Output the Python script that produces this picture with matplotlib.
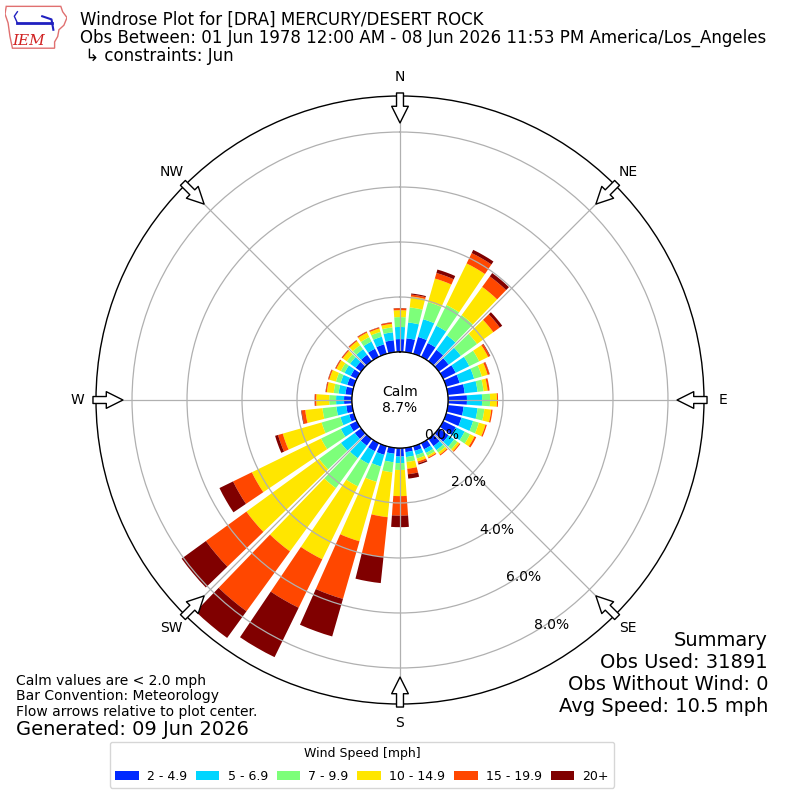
import numpy as np
from matplotlib import pyplot as plt
from matplotlib.patches import Polygon

# wind direction bins (degrees, meteorological, bar centres)
directions = np.arange(0, 360, 10)

speed_labels = ['2 - 4.9', '5 - 6.9', '7 - 9.9', '10 - 14.9', '15 - 19.9', '20+']

# percent of observations per direction bin, one list per speed bin
speed_2_5 = [0.47, 0.51, 0.64, 0.56, 0.51, 0.44, 0.51, 0.51, 0.62, 0.69, 0.58, 0.58,
             0.51, 0.44, 0.33, 0.25, 0.18, 0.16, 0.31, 0.22, 0.33, 0.33, 0.31, 0.29,
             0.29, 0.18, 0.22, 0.29, 0.25, 0.25, 0.25, 0.25, 0.29, 0.33, 0.36, 0.44]
speed_5_7 = [0.44, 0.58, 0.67, 0.70, 0.65, 0.55, 0.55, 0.55, 0.47, 0.55, 0.51, 0.44,
             0.36, 0.25, 0.18, 0.15, 0.16, 0.18, 0.24, 0.31, 0.44, 0.51, 0.56, 0.62,
             0.36, 0.33, 0.36, 0.29, 0.25, 0.25, 0.25, 0.25, 0.25, 0.29, 0.29, 0.29]
speed_7_10 = [0.36, 0.55, 0.65, 0.84, 0.91, 0.73, 0.40, 0.29, 0.22, 0.29, 0.25, 0.22,
              0.22, 0.15, 0.11, 0.11, 0.13, 0.18, 0.25, 0.37, 0.58, 0.91, 1.35, 0.98,
              0.80, 0.71, 0.51, 0.25, 0.18, 0.18, 0.15, 0.15, 0.18, 0.18, 0.18, 0.18]
speed_10_15 = [0.25, 0.40, 0.89, 1.68, 1.27, 0.73, 0.36, 0.22, 0.15, 0.25, 0.25, 0.25,
               0.18, 0.09, 0.09, 0.07, 0.11, 0.25, 0.95, 1.64, 2.25, 2.95, 2.84, 3.27,
               2.80, 1.47, 0.63, 0.47, 0.25, 0.25, 0.18, 0.18, 0.18, 0.18, 0.13, 0.13]
speed_15_20 = [0.07, 0.07, 0.21, 0.42, 0.47, 0.29, 0.07, 0.07, 0.07, 0.04, 0.05, 0.05,
               0.07, 0.04, 0.04, 0.04, 0.07, 0.20, 0.71, 1.45, 2.18, 1.96, 2.69, 1.82,
               0.76, 0.18, 0.13, 0.05, 0.04, 0.04, 0.04, 0.04, 0.04, 0.04, 0.04, 0.05]
speed_20_up = [0.01, 0.04, 0.13, 0.13, 0.15, 0.11, 0.02, 0.01, 0.00, 0.00, 0.00, 0.00,
               0.00, 0.00, 0.00, 0.00, 0.05, 0.16, 0.42, 0.96, 1.42, 2.00, 1.20, 1.09,
               0.55, 0.11, 0.02, 0.01, 0.01, 0.01, 0.01, 0.01, 0.01, 0.01, 0.01, 0.01]

calm_pct = 8.7
radial_ticks = [0, 2, 4, 6, 8]
compass = ['N', 'NE', 'E', 'SE', 'S', 'SW', 'W', 'NW']

series = [speed_2_5, speed_5_7, speed_7_10, speed_10_15, speed_15_20, speed_20_up]
cmap = plt.get_cmap('jet')
colors = [cmap(i / 6.0) for i in range(1, 7)]

fig = plt.figure(figsize=(8, 8), dpi=100)
ax = fig.add_axes([0.12, 0.12, 0.76, 0.76], projection='polar')
ax.set_theta_zero_location('N')
ax.set_theta_direction(-1)
ax.set_rorigin(-1.745)
ax.set_ylim(0, 9.31)

theta = np.deg2rad(directions)
base = np.zeros(len(directions))
handles = []
for values, color, label in zip(series, colors, speed_labels):
    values = np.array(values)
    bars = ax.bar(theta, values, width=np.deg2rad(8), bottom=base,
                  color=color, linewidth=0, label=label, zorder=1)
    handles.append(bars)
    base = base + values

# calm circle
circ = np.linspace(0, 2 * np.pi, 361)
ax.plot(circ, np.zeros_like(circ), color='black', lw=1, zorder=3)
ax.text(0, -1.745, 'Calm\n%.1f%%' % calm_pct, ha='center', va='center',
        fontsize=10, zorder=4)

ax.set_yticks(radial_ticks)
ax.set_yticklabels(['%.1f%%' % t for t in radial_ticks], fontsize=10)
ax.set_rlabel_position(150)
ax.set_xticks(np.deg2rad(np.arange(0, 360, 45)))
ax.set_xticklabels(compass, fontsize=10)
ax.tick_params(axis='x', pad=3)
ax.grid(True, color='#b0b0b0', lw=0.9)
ax.spines['polar'].set_linewidth(1)

# flow arrows at the rim, pointing to the centre
for ang in np.arange(0, 360, 45):
    ax.annotate('', xy=(np.deg2rad(ang), 8.33), xytext=(np.deg2rad(ang), 9.42),
                arrowprops=dict(arrowstyle='simple,head_length=1.2,head_width=1.2,tail_width=0.5',
                                mutation_scale=10, fc='white', ec='black', lw=1,
                                shrinkA=0, shrinkB=0),
                annotation_clip=False, zorder=5)

# header
fig.text(80 / 800, 1 - 25 / 800, 'Windrose Plot for [DRA] MERCURY/DESERT ROCK',
         fontsize=12, va='baseline')
fig.text(80 / 800, 1 - 43 / 800,
         'Obs Between: 01 Jun 1978 12:00 AM - 08 Jun 2026 11:53 PM America/Los_Angeles',
         fontsize=12, va='baseline')
fig.text(80 / 800, 1 - 61 / 800, ' \u21b3 constraints: Jun', fontsize=12, va='baseline')

# rough IEM logo
logo = fig.add_axes([5 / 800, 1 - 50 / 800, 62 / 800, 45 / 800])
logo.set_xlim(0, 1)
logo.set_ylim(0, 1)
logo.axis('off')
iowa = [(0.02, 0.97), (0.9, 0.97), (0.93, 0.85), (1.0, 0.72), (0.95, 0.55),
        (0.87, 0.45), (0.85, 0.3), (0.8, 0.18), (0.8, 0.04), (0.12, 0.04),
        (0.08, 0.3), (0.05, 0.6), (0.0, 0.8)]
logo.add_patch(Polygon(iowa, closed=True, fill=False, ec='#e07070', lw=1))
logo.plot([0.2, 0.75], [0.6, 0.6], color='#2020c0', lw=2)
logo.plot([0.6, 0.75, 0.78], [0.75, 0.68, 0.45], color='#2020c0', lw=1.5)
logo.plot([0.2, 0.15, 0.2], [0.85, 0.75, 0.6], color='#2020c0', lw=1)
logo.text(0.12, 0.12, 'IEM', color='#d02020', fontsize=11, style='italic',
          family='DejaVu Serif')

# footer notes
fig.text(16 / 800, 1 - 685 / 800, 'Calm values are < 2.0 mph', fontsize=10, va='baseline')
fig.text(16 / 800, 1 - 700 / 800, 'Bar Convention: Meteorology', fontsize=10, va='baseline')
fig.text(16 / 800, 1 - 716 / 800, 'Flow arrows relative to plot center.', fontsize=10,
         va='baseline')
fig.text(16 / 800, 1 - 735 / 800, 'Generated: 09 Jun 2026', fontsize=14, va='baseline')

summary = ['Summary', 'Obs Used: 31891', 'Obs Without Wind: 0', 'Avg Speed: 10.5 mph']
for i, line in enumerate(summary):
    fig.text(768 / 800, 1 - (646 + 22 * i) / 800, line, fontsize=14, ha='right',
             va='baseline')

fig.legend(handles=handles, labels=speed_labels, ncol=6, title='Wind Speed [mph]',
           loc='lower center', bbox_to_anchor=(362 / 800, 6 / 800), fontsize=9,
           title_fontsize=9, handlelength=1.9, handletextpad=0.65, columnspacing=0.7,
           labelspacing=0.8)

fig.savefig('out.png', dpi=100)
